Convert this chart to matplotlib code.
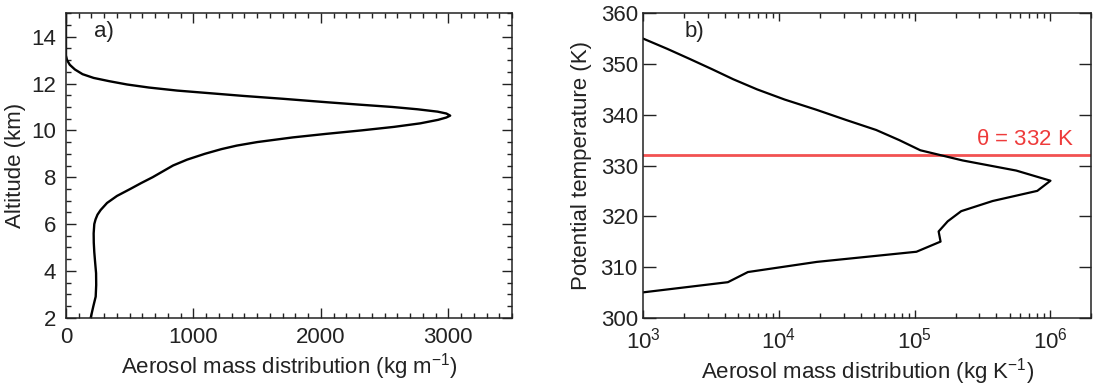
import matplotlib
matplotlib.use("Agg")
import matplotlib.pyplot as plt
from matplotlib.ticker import MultipleLocator, LogLocator, NullFormatter, FixedLocator

plt.rcParams['font.family'] = ['Liberation Sans', 'DejaVu Sans']
plt.rcParams['mathtext.default'] = 'regular'
plt.rcParams['font.size'] = 16

# Panel a: altitude profile (km) vs aerosol mass distribution (kg m-1)
alt_km = [2.0, 2.5, 2.9, 3.4, 3.9, 4.4, 4.8, 5.2, 5.6, 6.0, 6.2, 6.4, 6.6, 6.9,
          7.2, 7.5, 7.75, 8.0, 8.25, 8.5, 8.75, 9.0, 9.2, 9.35, 9.5, 9.7, 9.85,
          10.0, 10.15, 10.3, 10.45, 10.55, 10.63, 10.72, 10.8, 10.9, 11.0, 11.1,
          11.2, 11.35, 11.47, 11.6, 11.7, 11.83, 11.96, 12.1, 12.24, 12.4, 12.6,
          12.8, 13.0, 13.2, 15.0]
mass_km = [194, 215, 233, 237, 236, 228, 222, 218, 217, 222, 232, 247, 272, 322,
           400, 505, 590, 680, 760, 840, 950, 1090, 1220, 1340, 1500, 1780, 2040,
           2320, 2575, 2780, 2920, 2985, 3015, 2985, 2916, 2760, 2560, 2300,
           2051, 1700, 1396, 1100, 872, 650, 479, 340, 217, 130, 70,
           30, 8, 0, 0]

# Panel b: potential temperature (K) vs aerosol mass distribution (kg K-1)
theta_K = [305, 307, 309, 311, 313, 315, 317, 319, 321, 323, 325, 327, 329, 331,
           333, 335, 337, 339, 341, 343, 345, 347, 349, 351, 353, 355]
mass_theta = [1.0e3, 4.2e3, 5.9e3, 1.9e4, 1.03e5, 1.55e5, 1.5e5, 1.75e5, 2.2e5,
              3.75e5, 8.0e5, 1.0e6, 5.6e5, 2.25e5, 1.1e5, 7.7e4, 5.2e4, 3.1e4,
              1.88e4, 1.1e4, 6.9e3, 4.6e3, 3.2e3, 2.2e3, 1.5e3, 1.0e3]
theta_ref = 332

fig = plt.figure(figsize=(11.05, 3.85), dpi=100)
ax1 = fig.add_axes([66/1105, 67.3/385, 446/1105, 304.4/385])
ax2 = fig.add_axes([643.3/1105, 67.3/385, 448/1105, 304.4/385])

spine_c = '#222222'
for ax in (ax1, ax2):
    for s in ax.spines.values():
        s.set_linewidth(1.1)
        s.set_color(spine_c)

# Panel a
ax1.plot(mass_km, alt_km, color='black', lw=1.7, solid_joinstyle='round')
ax1.set_xlim(0, 3500)
ax1.set_ylim(2, 15)
ax1.xaxis.set_major_locator(FixedLocator([0, 1000, 2000, 3000]))
ax1.xaxis.set_minor_locator(MultipleLocator(100))
ax1.yaxis.set_major_locator(FixedLocator([2, 4, 6, 8, 10, 12, 14]))
ax1.yaxis.set_minor_locator(MultipleLocator(0.5))
ax1.tick_params(which='both', direction='in', top=True, right=True, color=spine_c)
ax1.tick_params(which='major', length=7, width=1.0, pad=7)
ax1.tick_params(which='minor', length=3.5, width=1.0)
ax1.set_xlabel('Aerosol mass distribution (kg m$^{-1}$)', color='#222222', labelpad=2)
ax1.set_ylabel('Altitude (km)', color='#222222', labelpad=4)
ax1.text(0.063, 0.94, 'a)', transform=ax1.transAxes, ha='left', va='center', color='#222222')

# Panel b
ax2.axhline(theta_ref, color='#f25252', lw=2.0)
ax2.plot(mass_theta, theta_K, color='black', lw=1.6, solid_joinstyle='round')
ax2.set_xscale('log')
ax2.set_xlim(1e3, 2e6)
ax2.set_ylim(300, 360)
ax2.xaxis.set_major_locator(LogLocator(base=10, numticks=10))
ax2.xaxis.set_minor_locator(LogLocator(base=10, subs=range(2, 10), numticks=20))
ax2.xaxis.set_minor_formatter(NullFormatter())
ax2.yaxis.set_major_locator(MultipleLocator(10))
ax2.tick_params(which='both', direction='in', top=True, right=True, color=spine_c)
ax2.tick_params(axis='y', which='major', length=9, width=1.0, pad=4)
ax2.tick_params(axis='x', which='major', length=6, width=1.0, pad=7)
ax2.tick_params(axis='x', which='minor', length=3.5, width=1.0)
ax2.set_xlabel('Aerosol mass distribution (kg K$^{-1}$)', color='#222222', labelpad=2)
ax2.set_ylabel('Potential temperature (K)', color='#222222', labelpad=6)
ax2.text(0.093, 0.94, 'b)', transform=ax2.transAxes, ha='left', va='center', color='#222222')
ax2.text(1.49e6, 335.2, r'$\theta$ = %d K' % theta_ref, color='#ee3b3b', ha='right', va='center')

for ax in (ax1, ax2):
    for lab in ax.get_xticklabels() + ax.get_yticklabels():
        lab.set_color('#222222')

fig.savefig('out.png', dpi=100)
